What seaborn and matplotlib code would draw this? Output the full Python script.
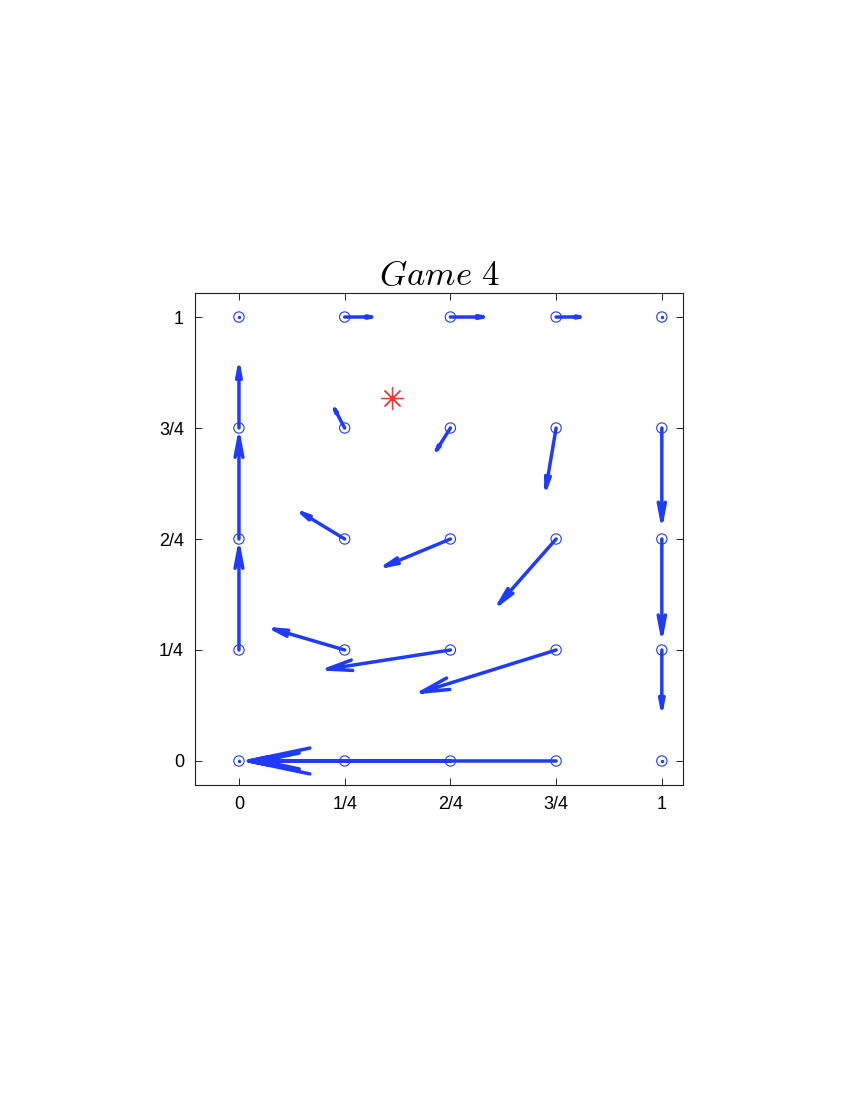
import numpy as np
import seaborn as sns
import matplotlib.pyplot as plt

# grid of strategy points and the drift vectors
grid_x = [0, 0.25, 0.5, 0.75, 1] * 5
grid_y = [1] * 5 + [0.75] * 5 + [0.5] * 5 + [0.25] * 5 + [0] * 5
u = [0, 0.064, 0.078, 0.057, 0,
     0, -0.024, -0.033, -0.024, 0,
     0, -0.102, -0.154, -0.135, 0,
     0, -0.168, -0.291, -0.319, 0,
     0, -0.225, -0.447, -0.728, 0]
v = [0, 0, 0, 0, 0,
     0.137, 0.043, -0.050, -0.135, -0.209,
     0.230, 0.059, -0.061, -0.146, -0.214,
     0.230, 0.047, -0.043, -0.095, -0.131,
     0, 0, 0, 0, 0]
eq_x, eq_y = [0.362], [0.818]
tick_vals = [0, 0.25, 0.5, 0.75, 1]
tick_labels = ['0', '1/4', '2/4', '3/4', '1']

blue = '#1f3bff'

sns.set_style('ticks')
plt.rcParams['font.family'] = ['Liberation Sans', 'DejaVu Sans']
plt.rcParams['mathtext.fontset'] = 'cm'
plt.rcParams['text.color'] = 'black'
plt.rcParams['xtick.color'] = 'black'
plt.rcParams['ytick.color'] = 'black'

fig = plt.figure(figsize=(8.5, 11), dpi=100)
ax = fig.add_axes([0.2294, 0.2864, 0.5741, 0.4472])

# matlab style arrows: shaft plus two barbs
alpha, beta = 0.2, 0.2
xs, ys = [], []
for x0, y0, du, dv in zip(grid_x, grid_y, u, v):
    if du == 0 and dv == 0:
        continue
    x1, y1 = x0 + du, y0 + dv
    xs += [x0, x1, np.nan,
           x1 - alpha * (du + beta * dv), x1, x1 - alpha * (du - beta * dv), np.nan]
    ys += [y0, y1, np.nan,
           y1 - alpha * (dv - beta * du), y1, y1 - alpha * (dv + beta * du), np.nan]
ax.plot(xs, ys, color=blue, lw=2.5, solid_capstyle='round', solid_joinstyle='miter')

sns.scatterplot(x=grid_x, y=grid_y, ax=ax, marker='o', s=55,
                facecolor='none', edgecolor=blue, linewidth=0.8, zorder=3)
zx = [a for a, b, c in zip(grid_x, u, v) if b == 0 and c == 0]
zy = [a for a, b, c in zip(grid_y, u, v) if b == 0 and c == 0]
sns.scatterplot(x=zx, y=zy, ax=ax, color=blue, s=6, linewidth=0, zorder=3)

ax.plot(eq_x, eq_y, marker=(8, 2, 0), markersize=16, color='#ff3030',
        markeredgewidth=0.9, linestyle='none')

ax.set_xlim(-0.104, 1.05)
ax.set_ylim(-0.054, 1.054)
ax.set_xticks(tick_vals)
ax.set_xticklabels(tick_labels)
ax.set_yticks(tick_vals)
ax.set_yticklabels(tick_labels)
ax.tick_params(direction='in', length=5, width=0.6, labelsize=13,
               top=True, right=True, pad=8)
for s in ax.spines.values():
    s.set_visible(True)
    s.set_linewidth(0.8)
    s.set_color('#222222')

ax.set_title(r'$Game\ 4$', fontsize=25, pad=6, color='black')

fig.savefig('out.png', dpi=100)
